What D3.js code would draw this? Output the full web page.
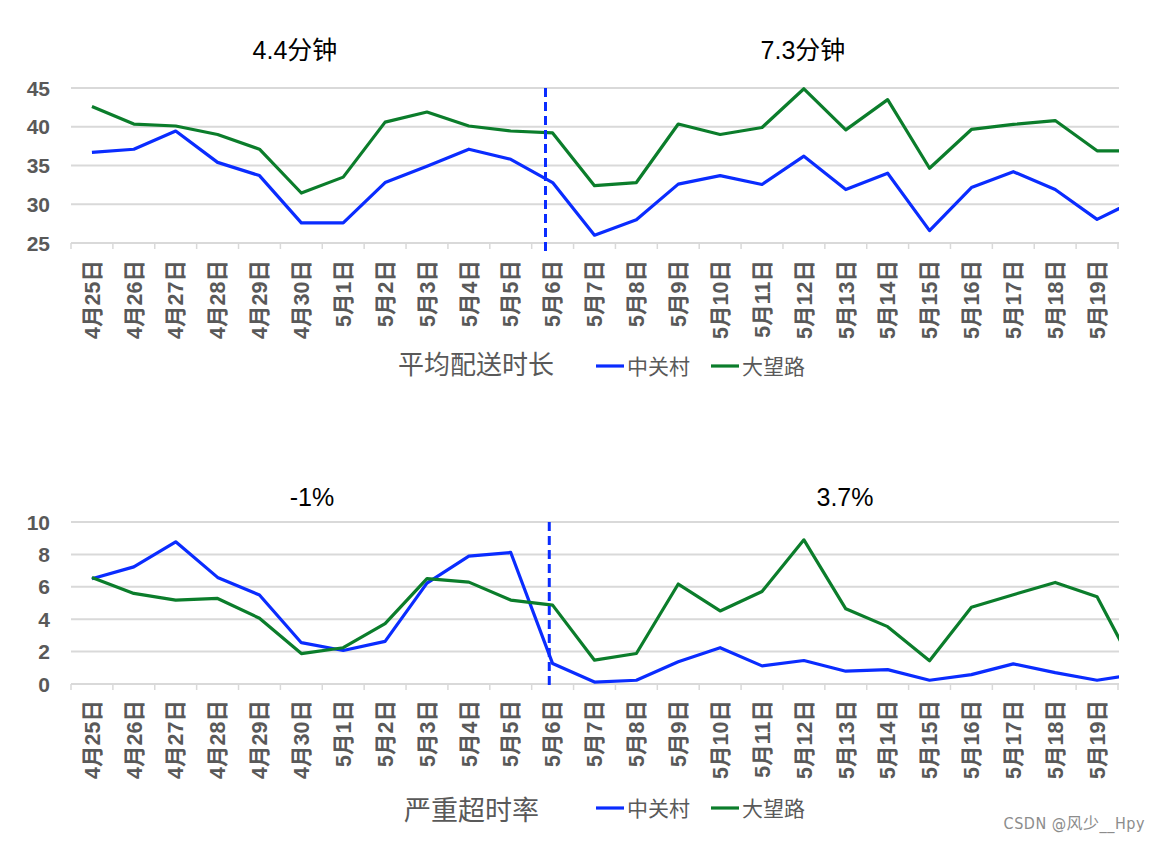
<!DOCTYPE html>
<html>
<head>
<meta charset="utf-8">
<script src="https://cdn.jsdelivr.net/npm/d3@7/dist/d3.min.js"></script>
<style>
  html, body { margin: 0; padding: 0; background: #fff; }
  svg { display: block; }
</style>
</head>
<body>
<svg id="chart" width="1160" height="842"></svg>
<script>
// ---------------- data ----------------
const categories = ['4月25日','4月26日','4月27日','4月28日','4月29日','4月30日',
  '5月1日','5月2日','5月3日','5月4日','5月5日','5月6日','5月7日','5月8日','5月9日',
  '5月10日','5月11日','5月12日','5月13日','5月14日','5月15日','5月16日','5月17日',
  '5月18日','5月19日','5月20日'];
const shownLabels = categories.slice(0, 25);
const seriesNames = ['中关村', '大望路'];

const durationZhongguancun = [36.7, 37.1, 39.45, 35.4, 33.7, 27.6, 27.6, 32.8, 34.9, 37.1, 35.8, 32.8,
  26.0, 28.0, 32.6, 33.7, 32.55, 36.2, 31.9, 34.0, 26.6, 32.15, 34.2, 31.9, 28.05, 30.7];
const durationDawanglu = [42.6, 40.35, 40.1, 39.0, 37.1, 31.45, 33.5, 40.6, 41.9, 40.1, 39.45, 39.2,
  32.4, 32.8, 40.35, 39.0, 39.9, 44.9, 39.6, 43.5, 34.65, 39.65, 40.3, 40.8, 36.9, 36.9];
const overtimeZhongguancun = [6.5, 7.23, 8.78, 6.58, 5.49, 2.55, 2.07, 2.63, 6.23, 7.89, 8.12, 1.26,
  0.12, 0.23, 1.37, 2.24, 1.12, 1.45, 0.79, 0.89, 0.23, 0.58, 1.24, 0.7, 0.23, 0.63];
const overtimeDawanglu = [6.58, 5.59, 5.18, 5.28, 4.06, 1.88, 2.24, 3.73, 6.5, 6.29, 5.18, 4.87,
  1.47, 1.88, 6.17, 4.51, 5.71, 8.9, 4.64, 3.54, 1.43, 4.74, 5.51, 6.27, 5.38, 0.5];

const durationTicks = [25, 30, 35, 40, 45];
const overtimeTicks = [0, 2, 4, 6, 8, 10];
const durationNotes = ['4.4分钟', '7.3分钟'];
const overtimeNotes = ['-1%', '3.7%'];
const splitCategory = '5月6日';

// ---------------- styles ----------------
const colors = ['#0a2cff', '#0b7d2b'];
const axisGrey = '#595959';
const gridGrey = '#d9d9d9';
const latin = '"Liberation Sans", Arial, "Noto Sans CJK SC", sans-serif';
const cjk = '"Noto Sans CJK SC", "Liberation Sans", sans-serif';

const svg = d3.select('#chart');
const left = 71, right = 1118;
const bw = (right - left) / 25;
const x = d3.scaleBand().domain(categories).range([left, left + bw * categories.length]);
const cx = d => x(d) + x.bandwidth() / 2;

svg.append('defs').append('clipPath').attr('id', 'plotclip')
  .append('rect').attr('x', left).attr('y', 0).attr('width', right - left + 1).attr('height', 842);

function panel(cfg) {
  const y = d3.scaleLinear().domain(cfg.domain).range([cfg.bottom, cfg.top]);
  const g = svg.append('g');

  // gridlines
  g.selectAll('line.grid').data(cfg.ticks).join('line')
    .attr('x1', left).attr('x2', right + 1)
    .attr('y1', d => y(d)).attr('y2', d => y(d))
    .attr('stroke', gridGrey).attr('stroke-width', 2);

  // y labels
  g.selectAll('text.ylab').data(cfg.ticks).join('text')
    .attr('x', 50).attr('y', d => y(d)).attr('dy', '0.36em')
    .attr('text-anchor', 'end')
    .attr('font-family', latin).attr('font-weight', 'bold').attr('font-size', 21)
    .attr('fill', axisGrey).text(d => d);

  // x tick marks at band boundaries
  const bounds = shownLabels.map(d => x(d)).concat([right]);
  g.selectAll('line.xt').data(bounds).join('line')
    .attr('x1', d => d).attr('x2', d => d)
    .attr('y1', y(cfg.domain[0])).attr('y2', y(cfg.domain[0]) + 6)
    .attr('stroke', gridGrey).attr('stroke-width', 1.5);

  // x labels, rotated
  g.selectAll('text.xl').data(shownLabels).join('text')
    .attr('transform', d => `translate(${cx(d)},${cfg.labelTop}) rotate(-90)`)
    .attr('text-anchor', 'end').attr('dy', '0.36em')
    .attr('font-family', latin).attr('font-weight', 'bold').attr('font-size', 21.5)
    .attr('fill', axisGrey).text(d => d);

  // lines
  const line = d3.line().x((d, i) => cx(categories[i])).y(d => y(d));
  const lg = g.append('g').attr('clip-path', 'url(#plotclip)');
  cfg.series.forEach((s, k) => {
    lg.append('path').datum(s).attr('d', line)
      .attr('fill', 'none').attr('stroke', colors[k]).attr('stroke-width', 3.2)
      .attr('stroke-linejoin', 'round');
  });

  // dashed split line
  const sx = cx(splitCategory) + cfg.splitOffset * bw;
  g.append('line').attr('x1', sx).attr('x2', sx)
    .attr('y1', y(cfg.domain[1])).attr('y2', y(cfg.domain[0]) + cfg.splitExtra)
    .attr('stroke', '#0a2cff').attr('stroke-width', 3)
    .attr('stroke-dasharray', '9,5');

  // notes
  g.selectAll('text.note').data(cfg.notes).join('text')
    .attr('x', (d, i) => cfg.noteX[i]).attr('y', cfg.noteY)
    .attr('text-anchor', 'middle')
    .attr('font-family', latin).attr('font-size', 25).attr('fill', '#000')
    .text(d => d);

  // axis title
  g.append('text').attr('x', cfg.titleX).attr('y', cfg.titleY)
    .attr('font-family', cjk).attr('font-size', cfg.titleSize).attr('fill', axisGrey)
    .text(cfg.title);

  // legend
  const lx = [596, 711];
  seriesNames.forEach((n, k) => {
    g.append('line').attr('x1', lx[k]).attr('x2', lx[k] + 28)
      .attr('y1', cfg.legendY).attr('y2', cfg.legendY)
      .attr('stroke', colors[k]).attr('stroke-width', 3.2);
    g.append('text').attr('x', lx[k] + 31).attr('y', cfg.legendY).attr('dy', '0.36em')
      .attr('font-family', cjk).attr('font-size', 21).attr('fill', axisGrey).text(n);
  });
}

panel({
  domain: [25, 45], top: 88, bottom: 243, ticks: durationTicks,
  labelTop: 260, series: [durationZhongguancun, durationDawanglu],
  splitOffset: -0.17, splitExtra: 11,
  notes: durationNotes, noteX: [295, 803], noteY: 59,
  title: '平均配送时长', titleX: 398, titleY: 374, titleSize: 26, legendY: 366
});

panel({
  domain: [0, 10], top: 522, bottom: 684, ticks: overtimeTicks,
  labelTop: 700, series: [overtimeZhongguancun, overtimeDawanglu],
  splitOffset: -0.08, splitExtra: 4,
  notes: overtimeNotes, noteX: [312, 845], noteY: 506,
  title: '严重超时率', titleX: 404, titleY: 820, titleSize: 27, legendY: 808
});

svg.append('text').attr('x', 1145).attr('y', 829).attr('text-anchor', 'end')
  .attr('font-family', '"Liberation Sans Narrow", "DejaVu Sans Condensed", "Noto Sans CJK SC", sans-serif')
  .attr('font-size', 16).attr('letter-spacing', 0.5).attr('fill', '#8c8c8c').text('CSDN @风少__Hpy');
</script>
</body>
</html>
